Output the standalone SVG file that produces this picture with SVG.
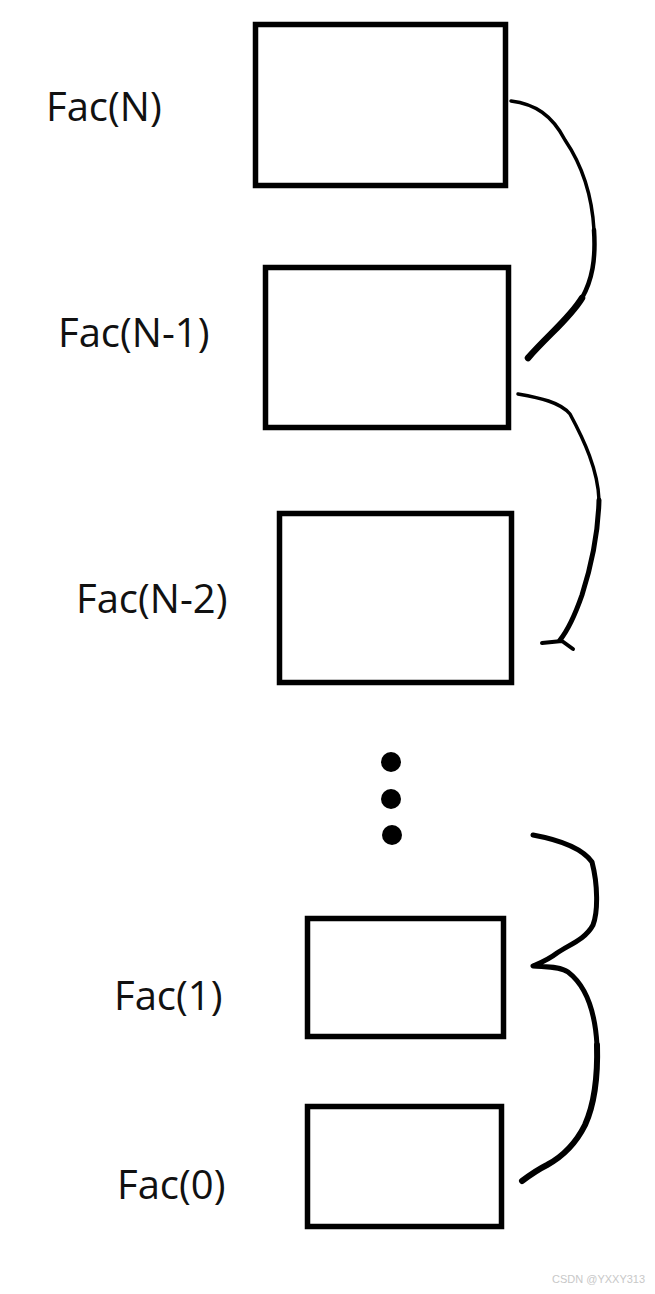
<svg xmlns="http://www.w3.org/2000/svg" width="655" height="1294" viewBox="0 0 655 1294">
<style>
.box{fill:#fff;stroke:#000;stroke-width:5.5}
.lbl{font-family:"Open Sans","Noto Sans",sans-serif;font-size:40px;fill:#111}
.cv{fill:none;stroke:#000;stroke-linecap:round;stroke-linejoin:round}
.wm{font-family:"Liberation Sans",sans-serif;font-size:11px;fill:#c8c8c8}
</style>
<rect width="655" height="1294" fill="#fff"/>
<g id="node-facN"><rect class="box" x="255.5" y="24.5" width="250" height="161"/><text class="lbl" x="46" y="121">Fac(N)</text></g>
<g id="node-facN1"><rect class="box" x="265.5" y="267.5" width="243" height="160"/><text class="lbl" x="58" y="347">Fac(N-1)</text></g>
<g id="node-facN2"><rect class="box" x="279.5" y="513.5" width="232" height="169"/><text class="lbl" x="76" y="613">Fac(N-2)</text></g>
<g id="dots"><circle cx="391" cy="762" r="10"/><circle cx="391" cy="799" r="10"/><circle cx="392" cy="835" r="10"/></g>
<g id="node-fac1"><rect class="box" x="307.5" y="918.5" width="196" height="118"/><text class="lbl" x="114" y="1010">Fac(1)</text></g>
<g id="node-fac0"><rect class="box" x="307.5" y="1106.5" width="194" height="120"/><text class="lbl" x="117" y="1199">Fac(0)</text></g>
<g id="connectors">
<path class="cv" stroke-width="3.5" d="M511,101 C535,104 552,115 565,140 C582,165 592,195 594,230"/>
<path class="cv" stroke-width="4.5" d="M594,230 C596,260 592,280 582,298"/>
<path class="cv" stroke-width="6.5" d="M582,298 C570,318 548,335 528,358"/>
<path class="cv" stroke-width="3.5" d="M518,394 C540,398 560,402 570,414 C584,440 598,470 599,500"/>
<path class="cv" stroke-width="5" d="M599,500 C598,540 590,570 582,595 C575,615 568,630 560,640"/>
<path class="cv" stroke-width="4" d="M542,643 L562,641 L573,649"/>
<path class="cv" stroke-width="5" d="M533,835 C560,840 582,848 592,862 C598,885 598,912 593,925 C585,940 568,945 557,953 C548,960 540,963 533,966 C545,967 560,966 568,972 C585,985 595,1010 597,1045"/>
<path class="cv" stroke-width="6" d="M597,1045 C598,1080 594,1105 585,1125 C575,1145 560,1158 547,1165 C537,1170 530,1175 522,1181"/>
</g>
<text class="wm" x="552" y="1283">CSDN @YXXY313</text>
</svg>
